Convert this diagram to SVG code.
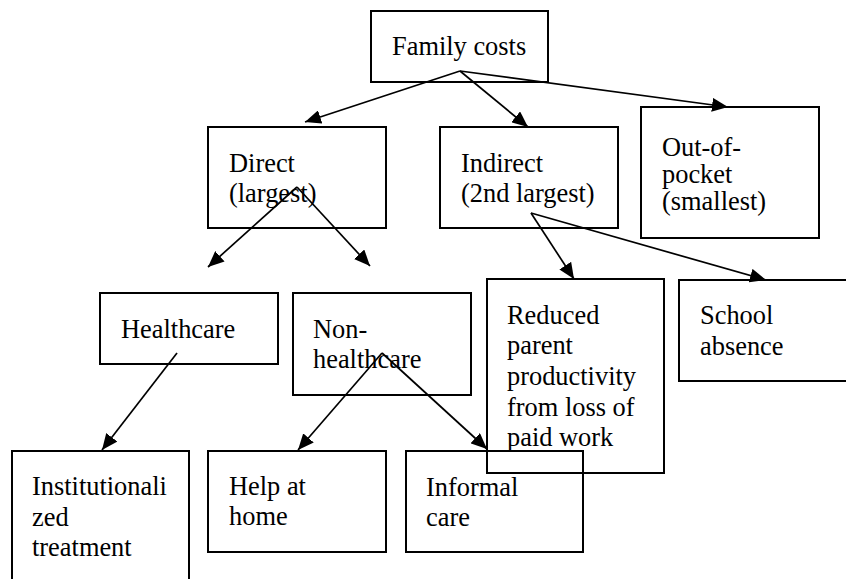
<svg xmlns="http://www.w3.org/2000/svg" width="846" height="579" viewBox="0 0 846 579" font-family="Liberation Serif, Times New Roman, DejaVu Serif, serif" font-size="26.4">
<defs>
<marker id="ah" markerUnits="userSpaceOnUse" markerWidth="17" markerHeight="14" refX="16" refY="7" orient="auto">
<path d="M0,0 L16,7 L0,14 z" fill="#000"/>
</marker>
<style>
.box{fill:none;stroke:#000;stroke-width:2}
text{fill:#000}
.c line{stroke:#000;stroke-width:1.7;marker-end:url(#ah)}
</style>
</defs>
<rect width="846" height="579" fill="#fff"/>
<g id="family"><rect class="box" x="371" y="11" width="177" height="71"/><text x="392" y="55">Family costs</text></g>
<g id="direct"><rect class="box" x="208" y="127" width="178" height="101"/><text x="229" y="172">Direct</text><text x="229" y="202">(largest)</text></g>
<g id="indirect"><rect class="box" x="440" y="127" width="178" height="101"/><text x="461" y="172">Indirect</text><text x="461" y="202">(2nd largest)</text></g>
<g id="outofpocket"><rect class="box" x="641" y="107" width="178" height="131"/><text x="662" y="156">Out-of-</text><text x="662" y="183">pocket</text><text x="662" y="210">(smallest)</text></g>
<g id="healthcare"><rect class="box" x="100" y="293" width="178" height="71"/><text x="121" y="338">Healthcare</text></g>
<g id="nonhealthcare"><rect class="box" x="293" y="293" width="178" height="102"/><text x="313" y="338">Non-</text><text x="313" y="368">healthcare</text></g>
<g id="reduced"><rect class="box" x="487" y="279" width="177" height="194"/><text x="507" y="324">Reduced</text><text x="507" y="354">parent</text><text x="507" y="385">productivity</text><text x="507" y="416">from loss of</text><text x="507" y="446">paid work</text></g>
<g id="school"><rect class="box" x="679" y="280" width="200" height="101"/><text x="700" y="324">School</text><text x="700" y="355">absence</text></g>
<g id="institutionalized"><rect class="box" x="12" y="451" width="177" height="160"/><text x="32" y="495">Institutionali</text><text x="32" y="526">zed</text><text x="32" y="556">treatment</text></g>
<g id="helpathome"><rect class="box" x="208" y="451" width="178" height="101"/><text x="229" y="495">Help at</text><text x="229" y="525">home</text></g>
<g id="informalcare"><rect class="box" x="406" y="451" width="177" height="101"/><text x="426" y="496">Informal</text><text x="426" y="526">care</text></g>
<g id="connectors" class="c">
<line x1="460" y1="71" x2="305" y2="122"/>
<line x1="460" y1="71" x2="528" y2="127"/>
<line x1="460" y1="71" x2="728" y2="107"/>
<line x1="297" y1="187" x2="208" y2="267"/>
<line x1="297" y1="187" x2="370" y2="266"/>
<line x1="531" y1="213" x2="574" y2="279"/>
<line x1="531" y1="213" x2="766" y2="280"/>
<line x1="177" y1="353" x2="102" y2="450"/>
<line x1="382" y1="353" x2="298" y2="450"/>
<line x1="382" y1="353" x2="487" y2="449"/>
</g>
</svg>
